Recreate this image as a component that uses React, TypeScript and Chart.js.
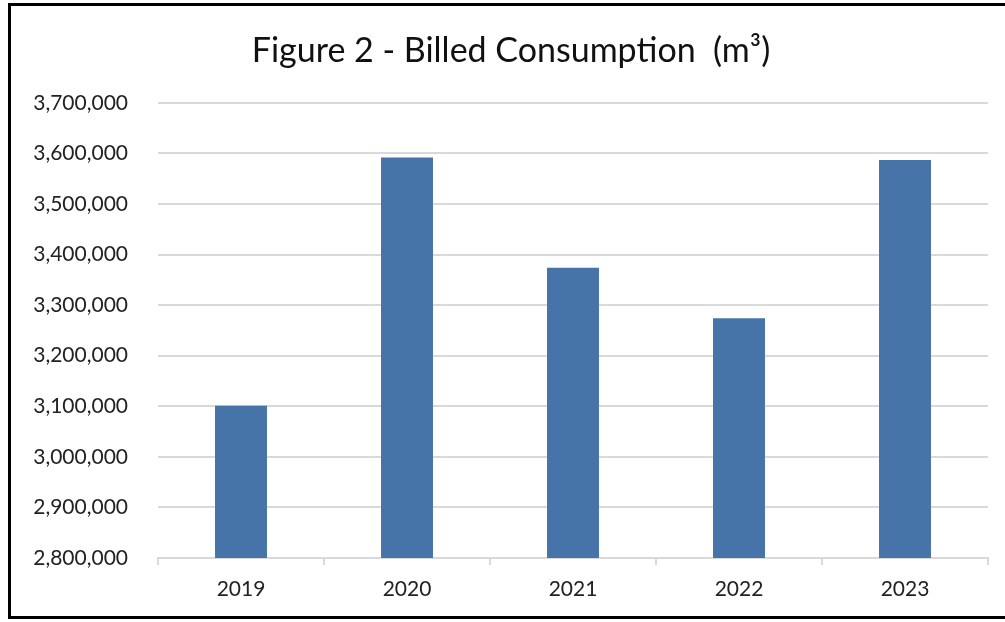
import React, { useEffect, useRef } from "react";
import { Chart, registerables } from "chart.js";

Chart.register(...registerables);

const years = ["2019", "2020", "2021", "2022", "2023"];
const billedConsumption = [3101000, 3592000, 3374000, 3274000, 3587000];
const yMin = 2800000;
const yMax = 3700000;
const yStep = 100000;
const titleText = "Figure 2 - Billed Consumption  (m³)";

export default function App() {
  const ref = useRef<HTMLCanvasElement | null>(null);

  useEffect(() => {
    if (!ref.current) return;
    const chart = new Chart(ref.current, {
      type: "bar",
      data: {
        labels: years,
        datasets: [
          {
            data: billedConsumption,
            backgroundColor: "#4674a8",
            borderWidth: 0,
            barPercentage: 0.313,
            categoryPercentage: 1.0,
            yAxisID: "y",
          },
        ],
      },
      options: {
        responsive: false,
        animation: false,
        layout: { padding: { left: 17, right: 0, top: 0, bottom: 0 } },
        plugins: {
          legend: { display: false },
          tooltip: { enabled: false },
          title: {
            display: true,
            text: titleText,
            color: "#111111",
            font: { family: "Lato", size: 34, weight: "normal", lineHeight: 1.2 },
            padding: { top: 31, bottom: 31 },
          },
        },
        scales: {
          x: {
            grid: {
              display: true,
              drawOnChartArea: false,
              drawTicks: true,
              tickLength: 7,
              color: "#d9d9d9",
              lineWidth: 2,
              offset: true,
            },
            border: { display: true, color: "#d9d9d9", width: 2 },
            ticks: {
              color: "#222222",
              font: { family: "Lato", size: 21, lineHeight: 1.2 },
              padding: 12,
              maxRotation: 0,
            },
            afterFit: (scale: any) => {
              scale.height = 64;
            },
          },
          y: {
            position: "left",
            min: yMin,
            max: yMax,
            grid: { color: "#d9d9d9", lineWidth: 2, drawTicks: false },
            border: { display: false },
            ticks: {
              stepSize: yStep,
              color: "#222222",
              font: { family: "Lato", size: 21 },
              padding: 30,
              callback: (v: any) => Number(v).toLocaleString("en-US"),
            },
            afterFit: (scale: any) => {
              scale.width = 141;
            },
          },
          spacer: {
            type: "linear",
            position: "right",
            display: true,
            min: yMin,
            max: yMax,
            grid: { display: false, drawTicks: false },
            border: { display: false },
            ticks: { display: false },
            afterFit: (scale: any) => {
              scale.width = 17;
            },
          },
        },
      },
    });
    return () => chart.destroy();
  }, []);

  return (
    <div
      style={{
        position: "absolute",
        left: 0,
        top: 0,
        width: 1005,
        height: 622,
        overflow: "hidden",
        background: "#fff",
      }}
    >
      <canvas
        ref={ref}
        width={1005}
        height={622}
        style={{ position: "absolute", left: 0, top: 0, width: 1005, height: 622 }}
      />
      <div
        style={{
          position: "absolute",
          left: 8,
          top: 3,
          width: 1100,
          height: 616,
          boxSizing: "border-box",
          border: "3px solid #000",
          pointerEvents: "none",
        }}
      />
    </div>
  );
}
